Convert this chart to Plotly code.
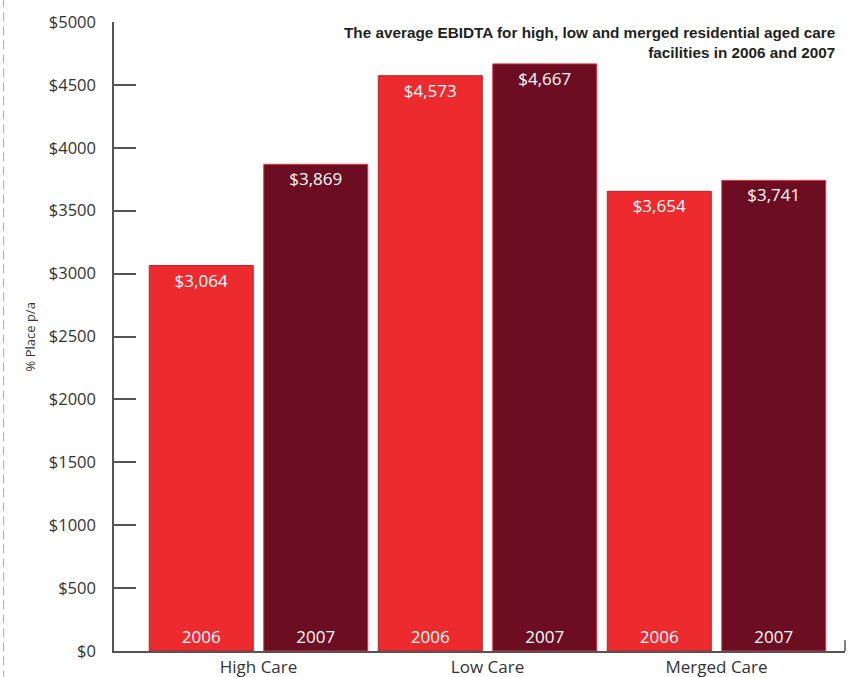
import plotly.graph_objects as go

categories = ["High Care", "Low Care", "Merged Care"]
values_2006 = [3064, 4573, 3654]
values_2007 = [3869, 4667, 3741]
series_names = ["2006", "2007"]
tick_values = [0, 500, 1000, 1500, 2000, 2500, 3000, 3500, 4000, 4500, 5000]
tick_labels = ["$0", "$500", "$1000", "$1500", "$2000", "$2500", "$3000",
               "$3500", "$4000", "$4500", "$5000"]
title_text = ("The average EBIDTA for high, low and merged residential aged care<br>"
              "facilities in 2006 and 2007")
y_title = "% Place p/a"

FONT = "Open Sans"
colors = {"2006": "#ED2A2E", "2007": "#6D0D21"}
edges = {"2006": "#B3232B", "2007": "#E2323F"}

fig = go.Figure()
for name, vals in zip(series_names, [values_2006, values_2007]):
    fig.add_trace(go.Bar(
        x=categories, y=vals, name=name, offsetgroup=name,
        marker=dict(color=colors[name], line=dict(color=edges[name], width=1)),
        text=["${:,}".format(v) for v in vals],
        textposition="inside", insidetextanchor="end", textangle=0,
        textfont=dict(color="white", size=17, family=FONT),
        cliponaxis=False, showlegend=False,
    ))
for name, vals in zip(series_names, [values_2006, values_2007]):
    fig.add_trace(go.Bar(
        x=categories, y=vals, name=name, offsetgroup=name,
        marker=dict(color="rgba(0,0,0,0)", line=dict(width=0)),
        text=[name] * len(vals),
        textposition="inside", insidetextanchor="start", textangle=0,
        textfont=dict(color="white", size=17, family=FONT),
        showlegend=False, hoverinfo="skip",
    ))

fig.update_layout(
    width=856, height=677,
    margin=dict(l=114, r=11, t=22, b=26),
    paper_bgcolor="white", plot_bgcolor="white",
    barmode="group", bargap=0.0, bargroupgap=0.092,
    font=dict(family=FONT, color="#333333"),
    showlegend=False,
)
fig.update_xaxes(
    range=[-0.631, 2.561], showgrid=False, zeroline=False, automargin=False,
    showline=True, linecolor="#555555", linewidth=1.5,
    ticks="", tickfont=dict(size=17, color="#333333", family=FONT),
    ticklabelstandoff=0,
)
fig.update_yaxes(
    range=[0, 5000], showgrid=False, zeroline=False, automargin=False,
    showline=True, linecolor="#555555", linewidth=1.5,
    ticks="inside", ticklen=22, tickwidth=1.5, tickcolor="#555555",
    tickvals=tick_values, ticktext=tick_labels,
    tickfont=dict(size=16.5, color="#333333", family=FONT),
    ticklabelstandoff=13,
)
# small upward tick at the right end of the x axis
fig.add_shape(type="line", xref="paper", yref="paper", x0=1, x1=1, y0=0, y1=0.017,
              line=dict(color="#555555", width=1.5))
# dashed margin line at far left
fig.add_shape(type="line", xref="paper", yref="paper", x0=-0.151, x1=-0.151,
              y0=-0.045, y1=1.04, line=dict(color="#AAAAAA", width=1, dash="9px,5px"))
fig.add_annotation(
    text=title_text, xref="paper", yref="paper", x=0.989, y=1.0,
    xanchor="right", yanchor="top", align="right", showarrow=False,
    font=dict(family="Liberation Sans", size=15.3, color="#231F20", weight="bold"),
)
fig.add_annotation(
    text=y_title, xref="paper", yref="paper", x=-0.115, y=0.5,
    xanchor="center", yanchor="middle", textangle=-90, showarrow=False,
    font=dict(family=FONT, size=13, color="#333333"),
)

fig.write_html("out.html", config={"displayModeBar": False},
               post_script="document.body.style.margin='0';")
